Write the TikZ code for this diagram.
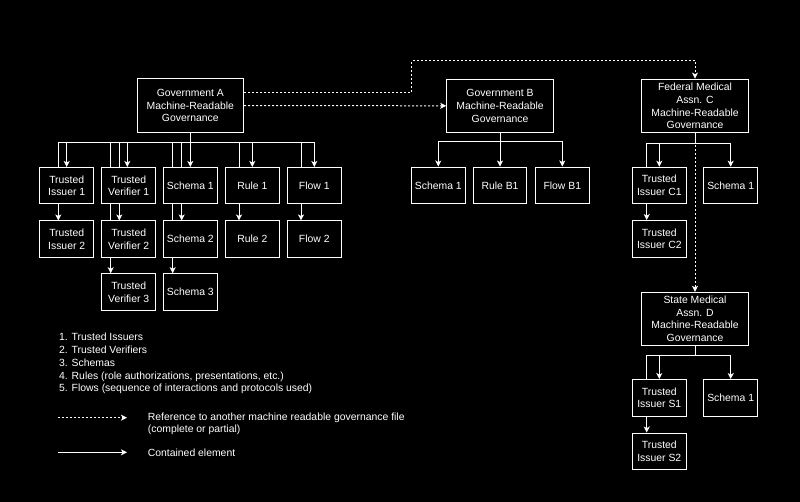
\documentclass[tikz,border=0pt]{standalone}
\usepackage{fontspec}
\setmainfont{Liberation Sans}
\usetikzlibrary{arrows.meta,backgrounds,calc}
\begin{document}
\begin{tikzpicture}[x=1pt,y=-1pt,
  box/.style={draw=white, fill=black, text=white, line width=1pt, inner sep=0pt, align=center, font=\fontsize{10.4}{12.8}\selectfont},
  small/.style={box, minimum width=53.5pt, minimum height=36.5pt},
  big/.style={box, minimum width=106.6pt, minimum height=53.3pt},
  arr/.style={draw=white, line width=1pt, -{Stealth[length=6pt,width=6pt,inset=1.5pt]}},
  dref/.style={arr, dash pattern=on 2pt off 2pt},
  lbl/.style={text=white, inner sep=0pt, anchor=base west, font=\fontsize{10.4}{12.8}\selectfont}]
\useasboundingbox (0,0) rectangle (800,502);

% Government A
\node[big] (ga) at (190.3,105.6) {Government A\\Machine-Readable\\Governance};
\node[small] (ti1) at (66.7,185.7) {Trusted\\Issuer 1};
\node[small] (tv1) at (128.7,185.7) {Trusted\\Verifier 1};
\node[small] (s1) at (190.3,185.7) {Schema 1};
\node[small] (r1) at (252.3,185.7) {Rule 1};
\node[small] (f1) at (314.3,185.7) {Flow 1};
\node[small] (ti2) at (66.7,239.2) {Trusted\\Issuer 2};
\node[small] (tv2) at (128.7,239.2) {Trusted\\Verifier 2};
\node[small] (s2) at (190.3,239.2) {Schema 2};
\node[small] (r2) at (252.3,239.2) {Rule 2};
\node[small] (f2) at (314.3,239.2) {Flow 2};
\node[small] (tv3) at (128.7,292) {Trusted\\Verifier 3};
\node[small] (s3) at (190.3,292) {Schema 3};

% Government B
\node[big] (gb) at (500,105.8) {Government B\\Machine-Readable\\Governance};
\node[small] (bs1) at (438.3,185.3) {Schema 1};
\node[small] (br1) at (500,185.3) {Rule B1};
\node[small] (bf1) at (562.3,185.3) {Flow B1};

% Federal Medical Assn. C
\node[big, minimum height=53.7pt] (fed) at (695,106) {Federal Medical\\Assn. C\\Machine-Readable\\Governance};
\node[small] (tc1) at (659.3,185.5) {Trusted\\Issuer C1};
\node[small] (cs1) at (730.7,185.5) {Schema 1};
\node[small] (tc2) at (659.3,238.8) {Trusted\\Issuer C2};

% State Medical Assn. D
\node[big, minimum height=52.7pt] (st) at (695,318.7) {State Medical\\Assn. D\\Machine-Readable\\Governance};
\node[small] (ts1) at (659.3,397.8) {Trusted\\Issuer S1};
\node[small] (ss1) at (730.7,397.8) {Schema 1};
\node[small] (ts2) at (659.3,451.3) {Trusted\\Issuer S2};

% Legend
\node[lbl] (lg1) at (59,341) {1. Trusted Issuers};
\node[lbl] (lg2) at (59,353.7) {2. Trusted Verifiers};
\node[lbl] (lg3) at (59,366.4) {3. Schemas};
\node[lbl] (lg4) at (59,379.2) {4. Rules (role authorizations, presentations, etc.)};
\node[lbl] (lg5) at (59,391.9) {5. Flows (sequence of interactions and protocols used)};
\node[lbl] (lg6) at (147.7,420.3) {Reference to another machine readable governance file};
\node[lbl] (lg7) at (147.7,432.8) {(complete or partial)};
\node[lbl] (lg8) at (147.7,456) {Contained element};
\coordinate (la1) at (58,417.7);
\coordinate (la2) at (127,417.7);
\coordinate (lb1) at (58,452.3);
\coordinate (lb2) at (127,452.3);
\coordinate (corner) at (411.7,61);

\begin{scope}[on background layer]
\fill[black] (0,0) rectangle (800,502);
% Gov A contained elements
\draw[arr] (ga.south) -- ++(0,10) -| (ti1.north);
\draw[arr] (ga.south) -- ++(0,10) -| ([xshift=-8.4pt]ti2.north);
\draw[arr] (ga.south) -- ++(0,10) -| ([xshift=-1.4pt]tv1.north);
\draw[arr] (ga.south) -- ++(0,10) -| ([xshift=-9.4pt]tv2.north);
\draw[arr] (ga.south) -- ++(0,10) -| ([xshift=-18pt]tv3.north);
\draw[arr] (ga.south) -- (s1.north);
\draw[arr] (ga.south) -- ++(0,10) -| ([xshift=-8.6pt]s2.north);
\draw[arr] (ga.south) -- ++(0,10) -| ([xshift=-17.6pt]s3.north);
\draw[arr] (ga.south) -- ++(0,10) -| (r1.north);
\draw[arr] (ga.south) -- ++(0,10) -| ([xshift=-13.3pt]r2.north);
\draw[arr] (ga.south) -- ++(0,10) -| (f1.north);
\draw[arr] (ga.south) -- ++(0,10) -| ([xshift=-13.3pt]f2.north);
% Gov B
\draw[arr] (gb.south) -- ++(0,8.5) -| (bs1.north);
\draw[arr] (gb.south) -- (br1.north);
\draw[arr] (gb.south) -- ++(0,8.5) -| (bf1.north);
% Federal
\draw[arr] (fed.south) -- ++(0,10) -| (tc1.north);
\draw[arr] (fed.south) -- ++(0,10) -| ([xshift=-12.6pt]tc2.north);
\draw[arr] (fed.south) -- ++(0,10) -| (cs1.north);
% State
\draw[arr] (st.south) -- ++(0,9.5) -| (ts1.north);
\draw[arr] (st.south) -- ++(0,9.5) -| ([xshift=-12.6pt]ts2.north);
\draw[arr] (st.south) -- ++(0,9.5) -| (ss1.north);
% References
\draw[dref] ([yshift=13pt]ga.east) -| (corner) -| (fed.north);
\draw[dref] (ga.east) -- (gb.west);
\draw[dref] (fed.south) -- (st.north);
% Legend connectors
\draw[dref] (la1) -- (la2);
\draw[arr] (lb1) -- (lb2);
\end{scope}
\end{tikzpicture}
\end{document}
